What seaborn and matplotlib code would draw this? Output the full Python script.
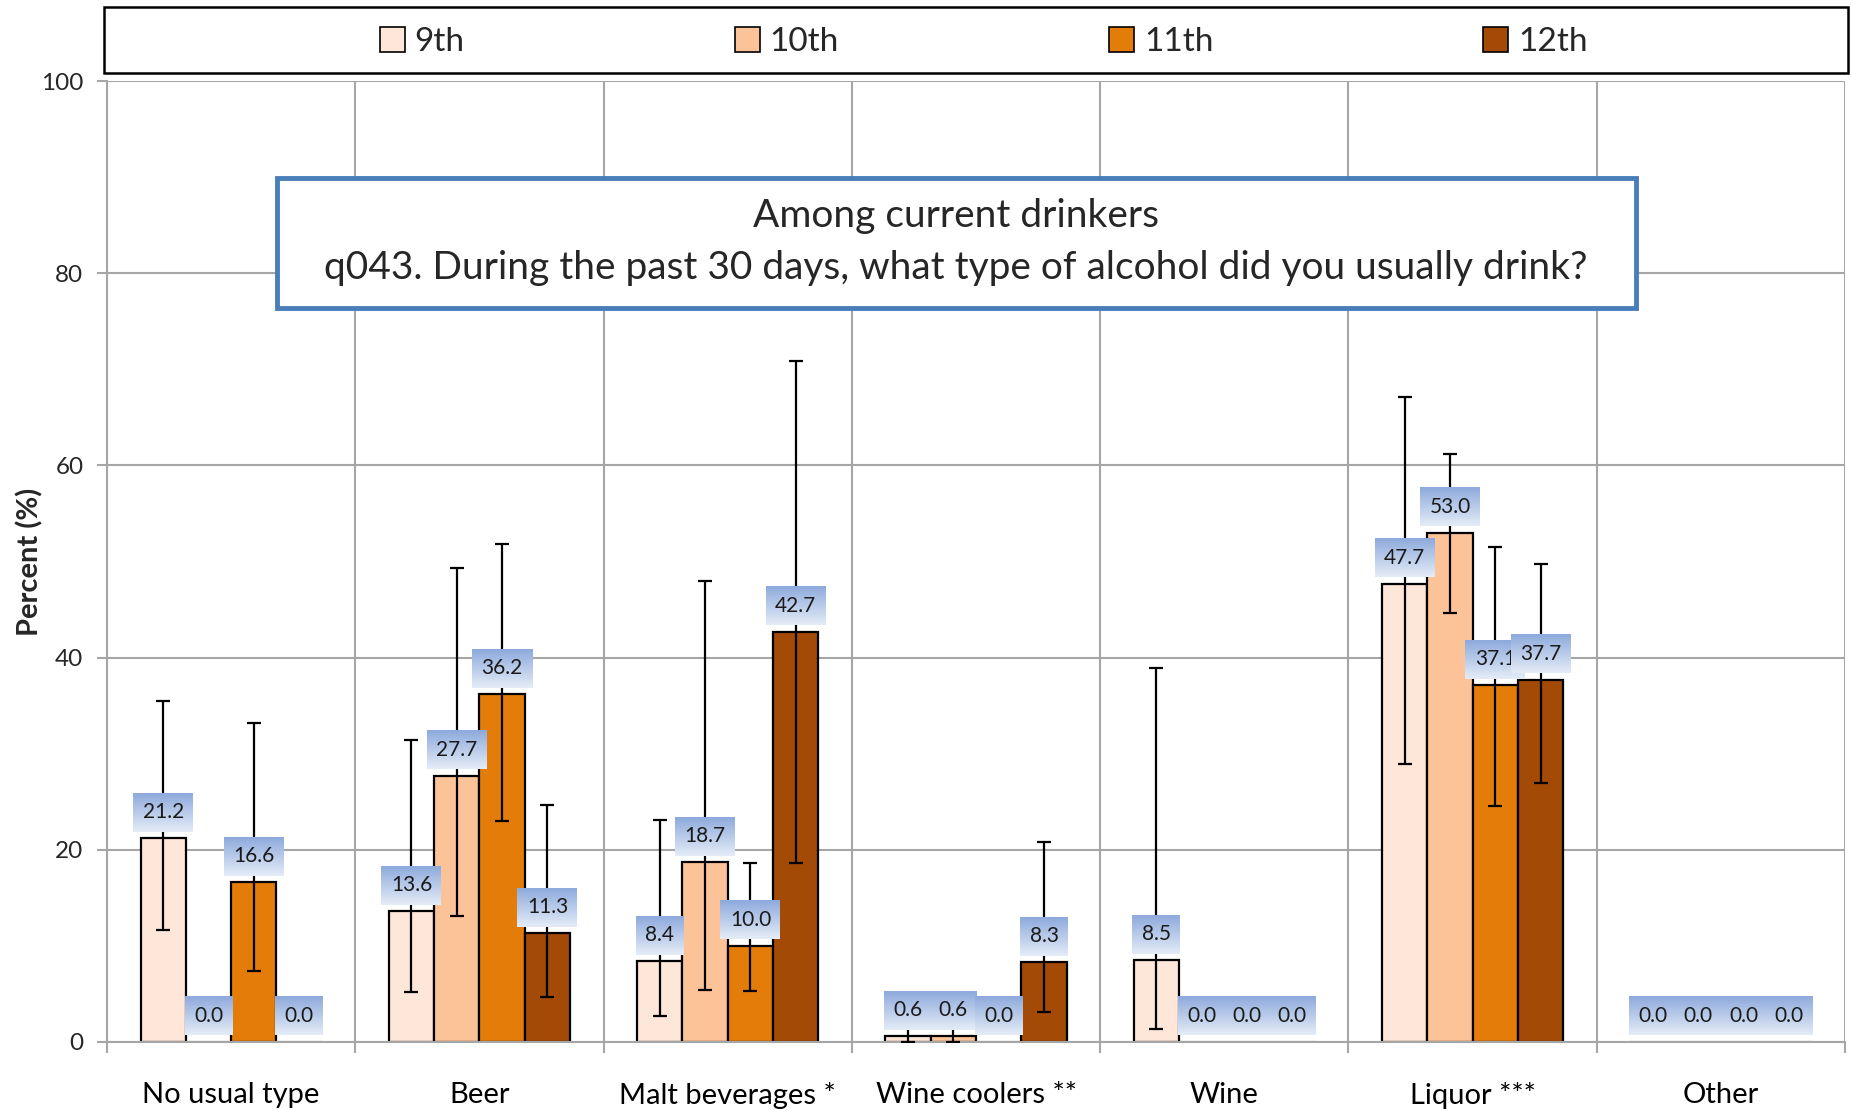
import numpy as np
import pandas as pd
import matplotlib
matplotlib.use('Agg')
import matplotlib.pyplot as plt
import seaborn as sns
from matplotlib.patches import Rectangle, Patch
from matplotlib.colors import LinearSegmentedColormap
from matplotlib import transforms

# Data
categories = ['No usual type', 'Beer', 'Malt beverages *', 'Wine coolers **', 'Wine', 'Liquor ***', 'Other']
grades = ['9th', '10th', '11th', '12th']

g9 = [21.2, 13.6, 8.4, 0.6, 8.5, 47.7, 0.0]
g10 = [0.0, 27.7, 18.7, 0.6, 0.0, 53.0, 0.0]
g11 = [16.6, 36.2, 10.0, 0.0, 0.0, 37.1, 0.0]
g12 = [0.0, 11.3, 42.7, 8.3, 0.0, 37.7, 0.0]

# confidence intervals (lower / upper), nan = no error bar
lo9 = [11.7, 5.2, 2.7, 0.0, 1.4, 28.9, np.nan]
hi9 = [35.5, 31.4, 23.1, 1.5, 38.9, 67.1, np.nan]
lo10 = [np.nan, 13.1, 5.4, 0.0, np.nan, 44.6, np.nan]
hi10 = [np.nan, 49.3, 48.0, 1.5, np.nan, 61.2, np.nan]
lo11 = [7.4, 23.0, 5.3, np.nan, np.nan, 24.6, np.nan]
hi11 = [33.2, 51.8, 18.6, np.nan, np.nan, 51.5, np.nan]
lo12 = [np.nan, 4.7, 18.6, 3.1, np.nan, 26.9, np.nan]
hi12 = [np.nan, 24.7, 70.9, 20.8, np.nan, 49.7, np.nan]

values = [g9, g10, g11, g12]
lows = [lo9, lo10, lo11, lo12]
highs = [hi9, hi10, hi11, hi12]
colors = ['#FEE6D9', '#FCC398', '#E37C09', '#A34A06']

df = pd.DataFrame({
    'category': np.tile(categories, len(grades)),
    'grade': np.repeat(grades, len(categories)),
    'value': np.concatenate(values),
})

sns.set_theme(style='white')
plt.rcParams['font.family'] = ['Lato', 'DejaVu Sans']

fig = plt.figure(figsize=(18.51, 11.10), dpi=100)
ax = fig.add_axes([0.0578, 0.0613, 0.9390, 0.8657])

sns.barplot(data=df, x='category', y='value', hue='grade', hue_order=grades,
            palette=colors, saturation=1, width=0.73, edgecolor='black', linewidth=1.6,
            errorbar=None, legend=False, ax=ax, zorder=2)

ax.set_xlim(-0.5, len(categories) - 0.5)
ax.set_ylim(0, 100)
ax.set_yticks(np.arange(0, 101, 20))
ax.set_xticks(np.arange(-0.5, len(categories), 1.0), minor=True)
ax.grid(axis='y', which='major', color='#A6A6A6', lw=1.5, zorder=0)
ax.grid(axis='x', which='minor', color='#A6A6A6', lw=1.5, zorder=0)
ax.set_axisbelow(True)
ax.tick_params(axis='x', which='major', length=0, pad=29, labelsize=21, colors='black')
ax.tick_params(axis='x', which='minor', length=8, width=1.5, color='#A6A6A6', direction='out', bottom=True)
ax.tick_params(axis='y', length=7, width=1.5, color='#A6A6A6', direction='out', left=True, labelsize=17.5, pad=10)
for s in ['top', 'right']:
    ax.spines[s].set_visible(False)
for s in ['left', 'bottom']:
    ax.spines[s].set_color('#A6A6A6')
    ax.spines[s].set_linewidth(1.5)
ax.set_xlabel('')
ax.set_ylabel('Percent (%)', fontsize=21, fontweight='bold', labelpad=-1.5)

# error bars + data labels
cmap = LinearSegmentedColormap.from_list('lbl', ['#E4ECF7', '#8EAADC'])
labels = []
z = 10
bar_containers = list(ax.containers)
for i, cont in enumerate(bar_containers):
    for j, p in enumerate(cont.patches):
        x = p.get_x() + p.get_width() / 2
        v = values[i][j]
        if v == 0:
            p.set_edgecolor('#A6A6A6')
        if not np.isnan(lows[i][j]):
            ax.errorbar(x, v, yerr=[[v - lows[i][j]], [highs[i][j] - v]], fmt='none',
                        ecolor='black', elinewidth=1.6, capsize=5, capthick=1.6, zorder=4)
        tr = transforms.offset_copy(ax.transData, fig=fig, x=0, y=11.5, units='points')
        t = ax.text(x, v, f'{v:.1f}', transform=tr, ha='center', va='bottom', fontsize=15,
                    color='#1a1a1a', zorder=z + 1,
                    bbox=dict(boxstyle='square,pad=0.45', fc='none', ec='none'))
        labels.append((t, z))
        z += 2

fig.canvas.draw()
renderer = fig.canvas.get_renderer()
inv = ax.transData.inverted()
grad = np.linspace(0, 1, 64).reshape(-1, 1)
for t, zz in labels:
    bb = t.get_bbox_patch().get_window_extent(renderer)
    (x0, y0), (x1, y1) = inv.transform([(bb.x0, bb.y0), (bb.x1, bb.y1)])
    ax.imshow(grad, extent=(x0, x1, y0, y1), origin='lower', aspect='auto',
              cmap=cmap, interpolation='bilinear', zorder=zz)
ax.set_xlim(-0.5, len(categories) - 0.5)
ax.set_ylim(0, 100)

# legend box at top
fig.add_artist(Rectangle((0.0562, 0.934), 0.942, 0.0595, transform=fig.transFigure,
                         fc='white', ec='black', lw=1.8, zorder=1))
handles = [Patch(facecolor=c, edgecolor='black', lw=1.2) for c in colors]
fig.legend(handles, grades, loc='center', bbox_to_anchor=(0.5315, 0.962), ncol=4,
           frameon=False, fontsize=24, handlelength=0.75, handleheight=0.75,
           handletextpad=0.3, columnspacing=8.1)

# question box
fig.add_artist(Rectangle((0.1497, 0.7225), 0.734, 0.117, transform=fig.transFigure,
                         fc='white', ec='#4A7EBB', lw=3.5, zorder=2))
fig.text(0.5165, 0.805, 'Among current drinkers', ha='center', va='center', fontsize=28, zorder=3)
fig.text(0.5165, 0.759, 'q043. During the past 30 days, what type of alcohol did you usually drink?',
         ha='center', va='center', fontsize=28, zorder=3)

fig.savefig('out.png', dpi=100)
